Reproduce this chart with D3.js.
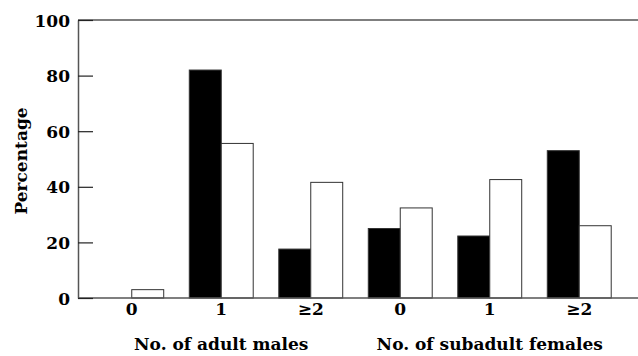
<!DOCTYPE html>
<html>
<head>
<meta charset="utf-8">
<script src="https://cdn.jsdelivr.net/npm/d3@7"></script>
<style>
	body { margin: 0; background: #fff; }
	text { font-family: "DejaVu Serif", serif; font-weight: bold; fill: #000; }
</style>
</head>
<body>
<div id="chart"></div>
<script>
'use strict';

// categories, two sets of three
const groups = ["m0", "m1", "m2", "f0", "f1", "f2"];
const groupLabels = ["0", "1", "\u22652", "0", "1", "\u22652"];
const series = ["black", "white"];
const blackValues = [0, 82, 17.6, 25, 22.3, 53];
const whiteValues = [3, 55.6, 41.6, 32.4, 42.6, 26];
const yTicks = [0, 20, 40, 60, 80, 100];
const axisTitles = [
	{ label: "No. of adult males", group: "m1" },
	{ label: "No. of subadult females", group: "f1" }
];

const width = 638, height = 356;
const margin = { top: 20, right: 0, bottom: 58, left: 78 };

const svg = d3.select("#chart")
	.append("svg")
		.attr("width", width)
		.attr("height", height);

const yScale = d3.scaleLinear()
	.domain([0, 100])
	.range([height - margin.bottom, margin.top]);

const x0 = d3.scaleBand()
	.domain(groups)
	.range([87, 624])
	.paddingInner(0);

// two bars of ~32px inside each ~89px group
const x1 = d3.scaleBand()
	.domain(series)
	.range([0, x0.bandwidth()])
	.paddingInner(0)
	.paddingOuter(0.4);

const rows = groups.map((g, i) => ({
	group: g,
	vals: [
		{ key: "black", v: blackValues[i] },
		{ key: "white", v: whiteValues[i] }
	]
}));

// bars
const gBars = svg.append("g");
gBars.selectAll("g")
	.data(rows)
	.join("g")
		.attr("transform", d => `translate(${x0(d.group)},0)`)
	.selectAll("rect")
	.data(d => d.vals.filter(e => e.v > 0))
	.join("rect")
		.attr("x", d => x1(d.key))
		.attr("y", d => yScale(d.v))
		.attr("width", x1.bandwidth())
		.attr("height", d => yScale(0) - yScale(d.v))
		.attr("fill", d => d.key === "black" ? "#000" : "#fff")
		.attr("stroke", "#333")
		.attr("stroke-width", 1);

// frame lines: top and baseline run to the right edge
svg.append("line")
	.attr("x1", margin.left).attr("x2", width)
	.attr("y1", yScale(100)).attr("y2", yScale(100))
	.attr("stroke", "#000").attr("stroke-width", 1.2);

svg.append("line")
	.attr("x1", margin.left).attr("x2", width)
	.attr("y1", yScale(0)).attr("y2", yScale(0))
	.attr("stroke", "#555").attr("stroke-width", 1.5);

// y axis, ticks pointing inward
const yAxis = svg.append("g")
	.attr("transform", `translate(${margin.left},0)`)
	.call(d3.axisRight(yScale).tickValues(yTicks).tickSize(15).tickSizeOuter(0).tickFormat(d3.format("d")));
yAxis.select(".domain").attr("stroke", "#555").attr("stroke-width", 1.5);
yAxis.selectAll(".tick line").attr("stroke", "#222").attr("stroke-width", 1.2);
yAxis.selectAll(".tick text")
	.attr("x", -8)
	.attr("dy", "0.36em")
	.attr("text-anchor", "end")
	.attr("font-size", 17);

// x labels
const xAxis = svg.append("g")
	.attr("transform", `translate(0,${yScale(0)})`)
	.call(d3.axisBottom(x0).tickSize(0).tickFormat((d, i) => groupLabels[i]));
xAxis.select(".domain").remove();
xAxis.selectAll(".tick text")
	.attr("y", 5)
	.attr("dy", "0.71em")
	.attr("font-size", 17);

svg.selectAll(".xtitle")
	.data(axisTitles)
	.join("text")
		.attr("class", "xtitle")
		.attr("x", d => x0(d.group) + x0.bandwidth() / 2)
		.attr("y", 350)
		.attr("text-anchor", "middle")
		.attr("font-size", 17)
		.text(d => d.label);

svg.append("text")
	.attr("transform", `translate(27,${(yScale(0) + yScale(100)) / 2 + 2}) rotate(-90)`)
	.attr("text-anchor", "middle")
	.attr("font-size", 17)
	.text("Percentage");
</script>
</body>
</html>
